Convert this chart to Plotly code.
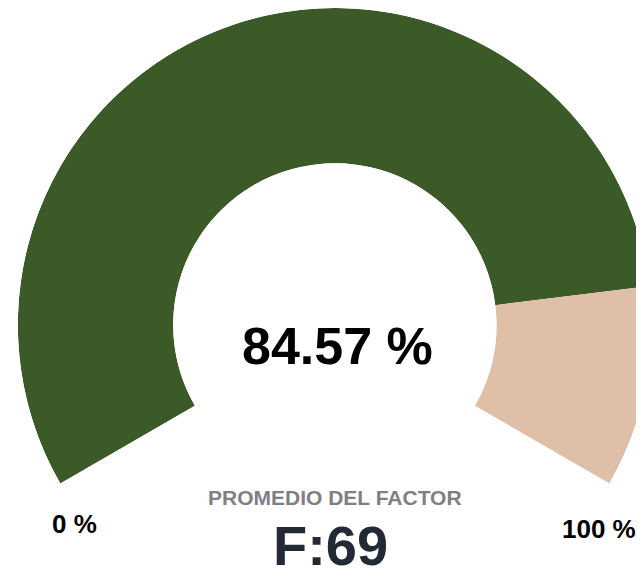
"""Factor average gauge chart."""

from __future__ import annotations

import plotly.graph_objects as go

GAUGE_SPAN = 240  # degrees covered by the gauge, from 0 % to 100 %
ACHIEVED_COLOR = "#3c5928"
REMAINING_COLOR = "#dfbfa8"
LABEL_FONT = "Liberation Sans, Arial, sans-serif"

_GAUGE = {
    "achieved": 84.57,
    "factor": 69,
}


def factor_gauge_chart(achieved: float, factor: int) -> go.Figure:
    """Build a partial-ring gauge for the factor average."""
    shares = [achieved, 100 - achieved]
    widths = [share / 100 * GAUGE_SPAN for share in shares]
    centers = [widths[0] / 2, widths[0] + widths[1] / 2]

    figure = go.Figure(
        go.Barpolar(
            r=[1, 1],
            theta=centers,
            width=widths,
            marker_color=[ACHIEVED_COLOR, REMAINING_COLOR],
            marker_line_width=0,
            hovertemplate="%{customdata:.2f} %<extra></extra>",
            customdata=shares,
        )
    )
    figure.update_layout(
        width=644,
        height=577,
        margin=dict(l=0, r=0, t=0, b=0),
        paper_bgcolor="white",
        showlegend=False,
        polar=dict(
            domain=dict(x=[0.015, 1.0], y=[0.176, 1.0]),
            sector=[-30, 210],
            hole=0.51,
            bgcolor="white",
            radialaxis=dict(range=[0, 1], visible=False),
            angularaxis=dict(
                rotation=210,
                direction="clockwise",
                thetaunit="degrees",
                visible=False,
            ),
        ),
    )

    labels = [
        (0.512, 0.414, f"{achieved:.2f} %", 52, "#000000"),
        (0.104, 0.106, "0 %", 26, "#000000"),
        (0.918, 0.097, "100 %", 26, "#000000"),
        (0.508, 0.152, "PROMEDIO DEL FACTOR", 21, "#808080"),
        (0.500, 0.068, f"F:{factor}", 56, "#222a35"),
    ]
    for x, y, text, size, color in labels:
        figure.add_annotation(
            x=x,
            y=y,
            xref="paper",
            yref="paper",
            text=f"<b>{text}</b>",
            showarrow=False,
            xanchor="center",
            yanchor="middle",
            font=dict(size=size, color=color, family=LABEL_FONT),
        )
    return figure


fig = factor_gauge_chart(_GAUGE["achieved"], _GAUGE["factor"])
fig.write_html("out.html")
